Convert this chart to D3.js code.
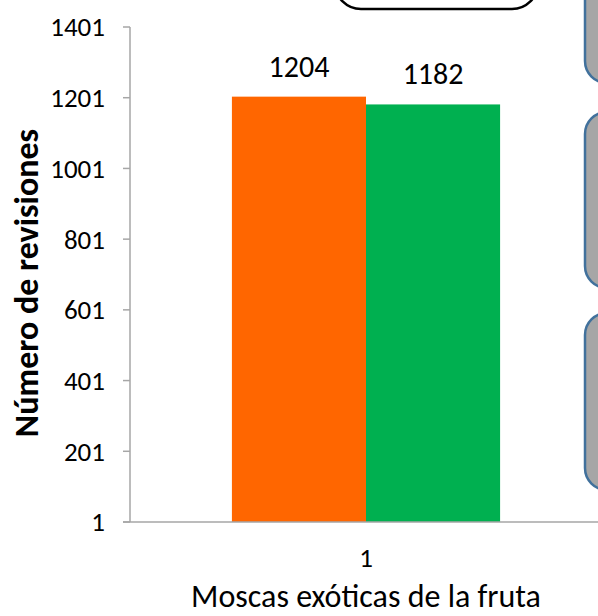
<!DOCTYPE html>
<html>
<head>
<meta charset="utf-8">
<script src="https://cdn.jsdelivr.net/npm/d3@7"></script>
<style>
  body { margin: 0; background: #fff; }
  svg { display: block; font-family: Carlito, Calibri, Lato, sans-serif; }
  .tick-label { font-size: 27px; fill: #000; }
  .bar-value { font-size: 30px; fill: #000; }
  .axis-title { font-size: 32px; fill: #000; }
  .y-title { font-size: 34px; font-weight: bold; fill: #000; }
</style>
</head>
<body>
<div class="chart-container"></div>
<script>
const categories = ["1"]
const seriesNames = ["Serie 1", "Serie 2"]
const seriesValues = [1204, 1182]
const seriesColours = ["#FF6600", "#00B050"]
const yTicks = [1, 201, 401, 601, 801, 1001, 1201, 1401]

const width = 598
const height = 616
const margin = {top: 27, bottom: 94, left: 130, right: -4}

const svg = d3.select('.chart-container')
  .append('svg')
  .attr('width', width)
  .attr('height', height)

const yScale = d3.scaleLinear()
  .domain([1, 1401])
  .range([height - margin.bottom, margin.top])

const xScale = d3.scaleBand()
  .domain(categories)
  .range([margin.left, width - margin.right])
  .paddingInner(0)
  .paddingOuter(0.38)

const xInner = d3.scaleBand()
  .domain(seriesNames)
  .range([0, xScale.bandwidth()])

const axisColour = "#a6a6a6"

// y axis
const yAxis = svg.append("g")
yAxis.append("line")
  .attr("x1", margin.left).attr("x2", margin.left)
  .attr("y1", yScale(1401)).attr("y2", yScale(1))
  .attr("stroke", axisColour).attr("stroke-width", 1.5)

yAxis.selectAll("line.tick")
  .data(yTicks)
  .enter()
  .append("line")
  .attr("class", "tick")
  .attr("x1", margin.left - 7).attr("x2", margin.left)
  .attr("y1", d => yScale(d)).attr("y2", d => yScale(d))
  .attr("stroke", axisColour).attr("stroke-width", 1.5)

yAxis.selectAll("text")
  .data(yTicks)
  .enter()
  .append("text")
  .attr("class", "tick-label")
  .attr("text-anchor", "end")
  .attr("x", margin.left - 25)
  .attr("y", d => yScale(d))
  .attr("dy", "0.35em")
  .text(d => d)

// bars
const groups = svg.selectAll("g.group")
  .data(categories)
  .enter()
  .append("g")
  .attr("class", "group")
  .attr("transform", d => `translate(${xScale(d)},0)`)

groups.selectAll("rect")
  .data(seriesNames.map((s, i) => ({name: s, value: seriesValues[i], colour: seriesColours[i]})))
  .enter()
  .append("rect")
  .attr("x", d => xInner(d.name))
  .attr("width", xInner.bandwidth())
  .attr("y", d => yScale(d.value))
  .attr("height", d => yScale(1) - yScale(d.value))
  .attr("fill", d => d.colour)

groups.selectAll("text")
  .data(seriesNames.map((s, i) => ({name: s, value: seriesValues[i]})))
  .enter()
  .append("text")
  .attr("class", "bar-value")
  .attr("text-anchor", "middle")
  .attr("x", d => xInner(d.name) + xInner.bandwidth() / 2)
  .attr("y", d => yScale(d.value) - 20)
  .text(d => d.value)

// x axis
svg.append("line")
  .attr("x1", margin.left - 7).attr("x2", width)
  .attr("y1", yScale(1)).attr("y2", yScale(1))
  .attr("stroke", axisColour).attr("stroke-width", 1.5)

svg.selectAll("text.cat")
  .data(categories)
  .enter()
  .append("text")
  .attr("class", "tick-label cat")
  .attr("text-anchor", "middle")
  .attr("x", d => xScale(d) + xScale.bandwidth() / 2)
  .attr("y", yScale(1) + 45)
  .text(d => d)

svg.append("text")
  .attr("class", "axis-title")
  .attr("text-anchor", "middle")
  .attr("x", xScale(categories[0]) + xScale.bandwidth() / 2)
  .attr("y", 607)
  .text("Moscas exóticas de la fruta")

svg.append("text")
  .attr("class", "y-title")
  .attr("text-anchor", "middle")
  .attr("transform", `translate(38,283) rotate(-90)`)
  .text("Número de revisiones")

// overlapping shapes from the slide
svg.append("rect")
  .attr("x", 335).attr("y", -60)
  .attr("width", 203).attr("height", 69)
  .attr("rx", 26).attr("ry", 26)
  .attr("fill", "#fff")
  .attr("stroke", "#000").attr("stroke-width", 2.5)

const sideBoxes = [[-60, 83], [112, 288], [313, 490]]
svg.selectAll("rect.side")
  .data(sideBoxes)
  .enter()
  .append("rect")
  .attr("class", "side")
  .attr("x", 585)
  .attr("y", d => d[0])
  .attr("width", 80)
  .attr("height", d => d[1] - d[0])
  .attr("rx", 22).attr("ry", 22)
  .attr("fill", "#a6a6a6")
  .attr("stroke", "#41719c").attr("stroke-width", 2.5)
</script>
</body>
</html>
